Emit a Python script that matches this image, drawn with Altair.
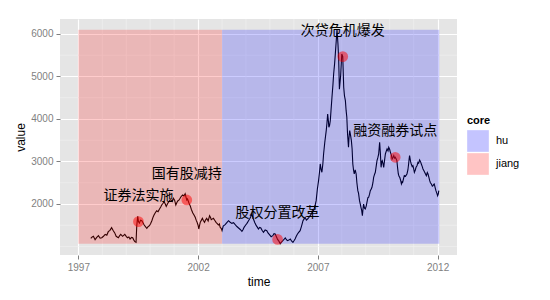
import altair as alt
import pandas as pd

years = [1997.52, 1997.58, 1997.63, 1997.70, 1997.77, 1997.84, 1997.91, 1997.98, 1998.05, 1998.12,
         1998.19, 1998.25, 1998.32, 1998.39, 1998.46, 1998.52, 1998.58, 1998.67, 1998.72, 1998.77,
         1998.85, 1998.94, 1999.00, 1999.05, 1999.11, 1999.16, 1999.22, 1999.27, 1999.32, 1999.36,
         1999.41, 1999.44, 1999.48, 1999.51, 1999.55, 1999.60, 1999.65, 1999.70, 1999.75, 1999.81,
         1999.86, 1999.92, 1999.97, 2000.02, 2000.07, 2000.12, 2000.16, 2000.22, 2000.27, 2000.33,
         2000.39, 2000.44, 2000.48, 2000.53, 2000.58, 2000.63, 2000.67, 2000.72, 2000.76, 2000.81,
         2000.86, 2000.92, 2000.97, 2001.02, 2001.07, 2001.11, 2001.15, 2001.20, 2001.25, 2001.30,
         2001.36, 2001.41, 2001.46, 2001.50, 2001.53, 2001.56, 2001.62, 2001.67, 2001.72, 2001.78,
         2001.83, 2001.88, 2001.92, 2001.95, 2002.00, 2002.03, 2002.06, 2002.09, 2002.14, 2002.18,
         2002.22, 2002.27, 2002.31, 2002.36, 2002.42, 2002.48, 2002.52, 2002.55, 2002.60, 2002.64,
         2002.70, 2002.75, 2002.80, 2002.85, 2002.89, 2002.92, 2002.97, 2003.00, 2003.05, 2003.13,
         2003.20, 2003.27, 2003.34, 2003.41, 2003.48, 2003.55, 2003.62, 2003.69, 2003.76, 2003.83,
         2003.88, 2003.92, 2003.98, 2004.04, 2004.10, 2004.15, 2004.20, 2004.24, 2004.28, 2004.31,
         2004.37, 2004.43, 2004.48, 2004.52, 2004.57, 2004.62, 2004.67, 2004.73, 2004.80, 2004.87,
         2004.92, 2004.98, 2005.05, 2005.12, 2005.17, 2005.22, 2005.27, 2005.32, 2005.38, 2005.43,
         2005.49, 2005.54, 2005.59, 2005.64, 2005.69, 2005.73, 2005.79, 2005.85, 2005.90, 2005.96,
         2006.01, 2006.05, 2006.10, 2006.15, 2006.20, 2006.26, 2006.32, 2006.38, 2006.43, 2006.47,
         2006.52, 2006.57, 2006.62, 2006.68, 2006.75, 2006.82, 2006.88, 2006.93, 2006.98, 2007.03,
         2007.07, 2007.10, 2007.14, 2007.17, 2007.21, 2007.24, 2007.29, 2007.35, 2007.38, 2007.41,
         2007.44, 2007.46, 2007.49, 2007.52, 2007.55, 2007.59, 2007.63, 2007.66, 2007.70, 2007.73,
         2007.77, 2007.80, 2007.84, 2007.87, 2007.90, 2007.95, 2008.00, 2008.04, 2008.08, 2008.11,
         2008.15, 2008.18, 2008.21, 2008.24, 2008.28, 2008.30, 2008.33, 2008.37, 2008.40, 2008.43,
         2008.46, 2008.49, 2008.52, 2008.56, 2008.60, 2008.63, 2008.67, 2008.70, 2008.74, 2008.77,
         2008.80, 2008.83, 2008.86, 2008.88, 2008.91, 2008.95, 2008.98, 2009.02, 2009.05, 2009.09,
         2009.12, 2009.16, 2009.19, 2009.23, 2009.26, 2009.30, 2009.33, 2009.37, 2009.40, 2009.44,
         2009.47, 2009.51, 2009.54, 2009.58, 2009.61, 2009.64, 2009.67, 2009.69, 2009.72, 2009.75,
         2009.79, 2009.82, 2009.86, 2009.89, 2009.93, 2009.96, 2010.00, 2010.03, 2010.07, 2010.10,
         2010.14, 2010.17, 2010.20, 2010.23, 2010.27, 2010.30, 2010.33, 2010.36, 2010.39, 2010.42,
         2010.46, 2010.49, 2010.52, 2010.54, 2010.58, 2010.61, 2010.66, 2010.72, 2010.76, 2010.79,
         2010.81, 2010.83, 2010.87, 2010.90, 2010.94, 2010.97, 2011.00, 2011.03, 2011.07, 2011.10,
         2011.14, 2011.18, 2011.21, 2011.25, 2011.29, 2011.32, 2011.36, 2011.39, 2011.43, 2011.46,
         2011.50, 2011.53, 2011.57, 2011.60, 2011.64, 2011.67, 2011.70, 2011.74, 2011.78, 2011.81,
         2011.84, 2011.86, 2011.90, 2011.93, 2011.97, 2012.00, 2012.03, 2012.05]

values = [1192, 1225, 1239, 1160, 1215, 1254, 1195, 1207, 1240, 1286,
          1265, 1348, 1380, 1443, 1372, 1320, 1239, 1207, 1250, 1286,
          1239, 1286, 1240, 1207, 1225, 1176, 1215, 1207, 1150, 1113,
          1097, 1490, 1709, 1584, 1552, 1620, 1607, 1560, 1505, 1460,
          1427, 1470, 1490, 1540, 1607, 1690, 1741, 1800, 1842, 1820,
          1882, 1930, 1976, 2010, 2054, 2000, 1944, 2000, 2039, 2080,
          2101, 2060, 2133, 2090, 1976, 2030, 2070, 2090, 2133, 2180,
          2211, 2190, 2242, 2150, 2094, 2117, 2020, 1960, 1870, 1788,
          1740, 1686, 1620, 1584, 1500, 1411, 1490, 1568, 1620, 1662,
          1610, 1568, 1620, 1662, 1600, 1725, 1680, 1631, 1650, 1662,
          1610, 1568, 1540, 1505, 1530, 1450, 1420, 1372, 1480, 1513,
          1560, 1607, 1570, 1544, 1560, 1513, 1470, 1435, 1400, 1356,
          1400, 1450, 1500, 1544, 1600, 1646, 1700, 1764, 1700, 1646,
          1560, 1490, 1450, 1411, 1450, 1435, 1380, 1333, 1390, 1372,
          1320, 1278, 1230, 1254, 1300, 1294, 1230, 1167, 1120, 1066,
          1110, 1137, 1170, 1200, 1160, 1137, 1150, 1176, 1130, 1098,
          1140, 1176, 1240, 1294, 1330, 1372, 1480, 1607, 1650, 1686,
          1620, 1646, 1680, 1725, 1790, 1843, 1950, 2078, 2350, 2548,
          2750, 2941, 2800, 2745, 2950, 3176, 3450, 3725, 3900, 4117,
          3950, 3803, 3850, 3960, 4200, 4509, 4800, 5058, 5300, 5529,
          5850, 6100, 5764, 5400, 4700, 5000, 5529, 5466, 4744, 4550,
          4431, 4200, 4039, 3646, 3333, 3550, 3725, 3600, 3490, 3300,
          2941, 2800, 2705, 2800, 2705, 2500, 2313, 2250, 2078, 2000,
          1921, 1850, 1725, 1850, 1999, 1900, 1882, 1950, 2039, 2150,
          2156, 2230, 2313, 2350, 2392, 2500, 2627, 2700, 2745, 2900,
          3019, 3100, 3176, 3450, 3200, 2862, 3000, 3019, 2950, 2862,
          3050, 3176, 3250, 3294, 3250, 3333, 3280, 3215, 3150, 3058,
          3100, 3137, 3080, 3098, 3060, 3019, 2850, 2705, 2650, 2627,
          2550, 2470, 2520, 2509, 2600, 2666, 2650, 2705, 2800, 2941,
          3050, 3137, 3000, 2941, 2880, 2901, 2830, 2745, 2800, 2862,
          2900, 2980, 2960, 3035, 2990, 2941, 2880, 2823, 2780, 2745,
          2700, 2666, 2740, 2705, 2620, 2549, 2500, 2470, 2420, 2431,
          2460, 2470, 2380, 2313, 2250, 2195, 2240, 2313]

event_years = [1999.51, 2001.53, 2005.32, 2008.04, 2010.23]
event_values = [1584, 2094, 1167, 5466, 3098]
event_labels = ["证券法实施", "国有股减持", "股权分置改革", "次贷危机爆发", "融资融券试点"]

core_names = ["jiang", "hu"]
core_start = [1997.0, 2003.0]
core_end = [2003.0, 2012.07]

major_x = [1997, 2002, 2007, 2012]
minor_x = [1998, 1999, 2000, 2001, 2003, 2004, 2005, 2006, 2008, 2009, 2010, 2011]
major_y = [2000, 3000, 4000, 5000, 6000]
minor_y = [1000, 1500, 2500, 3500, 4500, 5500]

series = pd.DataFrame({"year": years, "value": values})
events = pd.DataFrame({"year": event_years, "value": event_values, "label": event_labels})
cores = pd.DataFrame({
    "core": core_names,
    "start": core_start,
    "end": core_end,
    "ymin": [min(values)] * 2,
    "ymax": [max(values)] * 2,
})

xscale = alt.Scale(domain=[1996.235, 2012.81], nice=False, zero=False)
yscale = alt.Scale(domain=[800, 6350], nice=False, zero=False)

xaxis = alt.Axis(values=major_x, format="d", title="time", labelPadding=3, titlePadding=4)
yaxis = alt.Axis(values=major_y, format="d", title="value", labelPadding=3, titlePadding=3)

minor_vx = alt.Chart(pd.DataFrame({"year": minor_x})).mark_rule(
    color="#F2F2F2", strokeWidth=0.6
).encode(x=alt.X("year:Q", scale=xscale, axis=xaxis))

minor_hy = alt.Chart(pd.DataFrame({"value": minor_y})).mark_rule(
    color="#F2F2F2", strokeWidth=0.6
).encode(y=alt.Y("value:Q", scale=yscale, axis=yaxis))

line = alt.Chart(series).mark_line(color="black", strokeWidth=1.1).encode(
    x=alt.X("year:Q", scale=xscale, axis=xaxis),
    y=alt.Y("value:Q", scale=yscale, axis=yaxis),
)

rects = alt.Chart(cores).mark_rect(opacity=0.2).encode(
    x=alt.X("start:Q", scale=xscale, axis=xaxis),
    x2="end:Q",
    y=alt.Y("ymin:Q", scale=yscale, axis=yaxis),
    y2="ymax:Q",
    fill=alt.Fill(
        "core:N",
        scale=alt.Scale(domain=["hu", "jiang"], range=["#0000FF", "#FF0000"]),
        legend=alt.Legend(
            title="core", orient="none", legendX=407, legendY=96,
            symbolType="square", symbolSize=470, symbolStrokeWidth=0,
            symbolOpacity=0.23, rowPadding=1, labelOffset=7,
            titleFontSize=11, titleFontWeight="bold", titleColor="black",
            titleFont="Liberation Sans", titlePadding=4,
            labelFontSize=11, labelFont="Liberation Sans", labelColor="black",
        ),
    ),
)

points = alt.Chart(events).mark_circle(color="red", opacity=0.5, size=115).encode(
    x=alt.X("year:Q", scale=xscale, axis=xaxis),
    y=alt.Y("value:Q", scale=yscale, axis=yaxis),
)

labels = alt.Chart(events).mark_text(
    font="Noto Sans CJK SC", fontSize=14, color="black",
    align="center", baseline="middle", dy=-26,
).encode(
    x=alt.X("year:Q", scale=xscale, axis=xaxis),
    y=alt.Y("value:Q", scale=yscale, axis=yaxis),
    text="label:N",
)

chart = alt.layer(minor_vx, minor_hy, line, rects, points, labels).properties(
    width=397, height=236,
    autosize=alt.AutoSizeParams(type="none"),
    padding={"left": 60, "top": 19, "right": 93, "bottom": 45},
).configure_view(
    fill="#E5E5E5", strokeWidth=0,
).configure_axis(
    domain=False, tickColor="#7F7F7F", tickSize=4, tickWidth=1,
    labelColor="#7F7F7F", labelFont="Liberation Sans", labelFontSize=10,
    titleFont="Liberation Sans", titleFontSize=12, titleFontWeight="normal",
    titleColor="black", gridColor="white", gridWidth=1.2,
)

chart.save("out.html", embed_options={"renderer": "svg", "actions": False})
